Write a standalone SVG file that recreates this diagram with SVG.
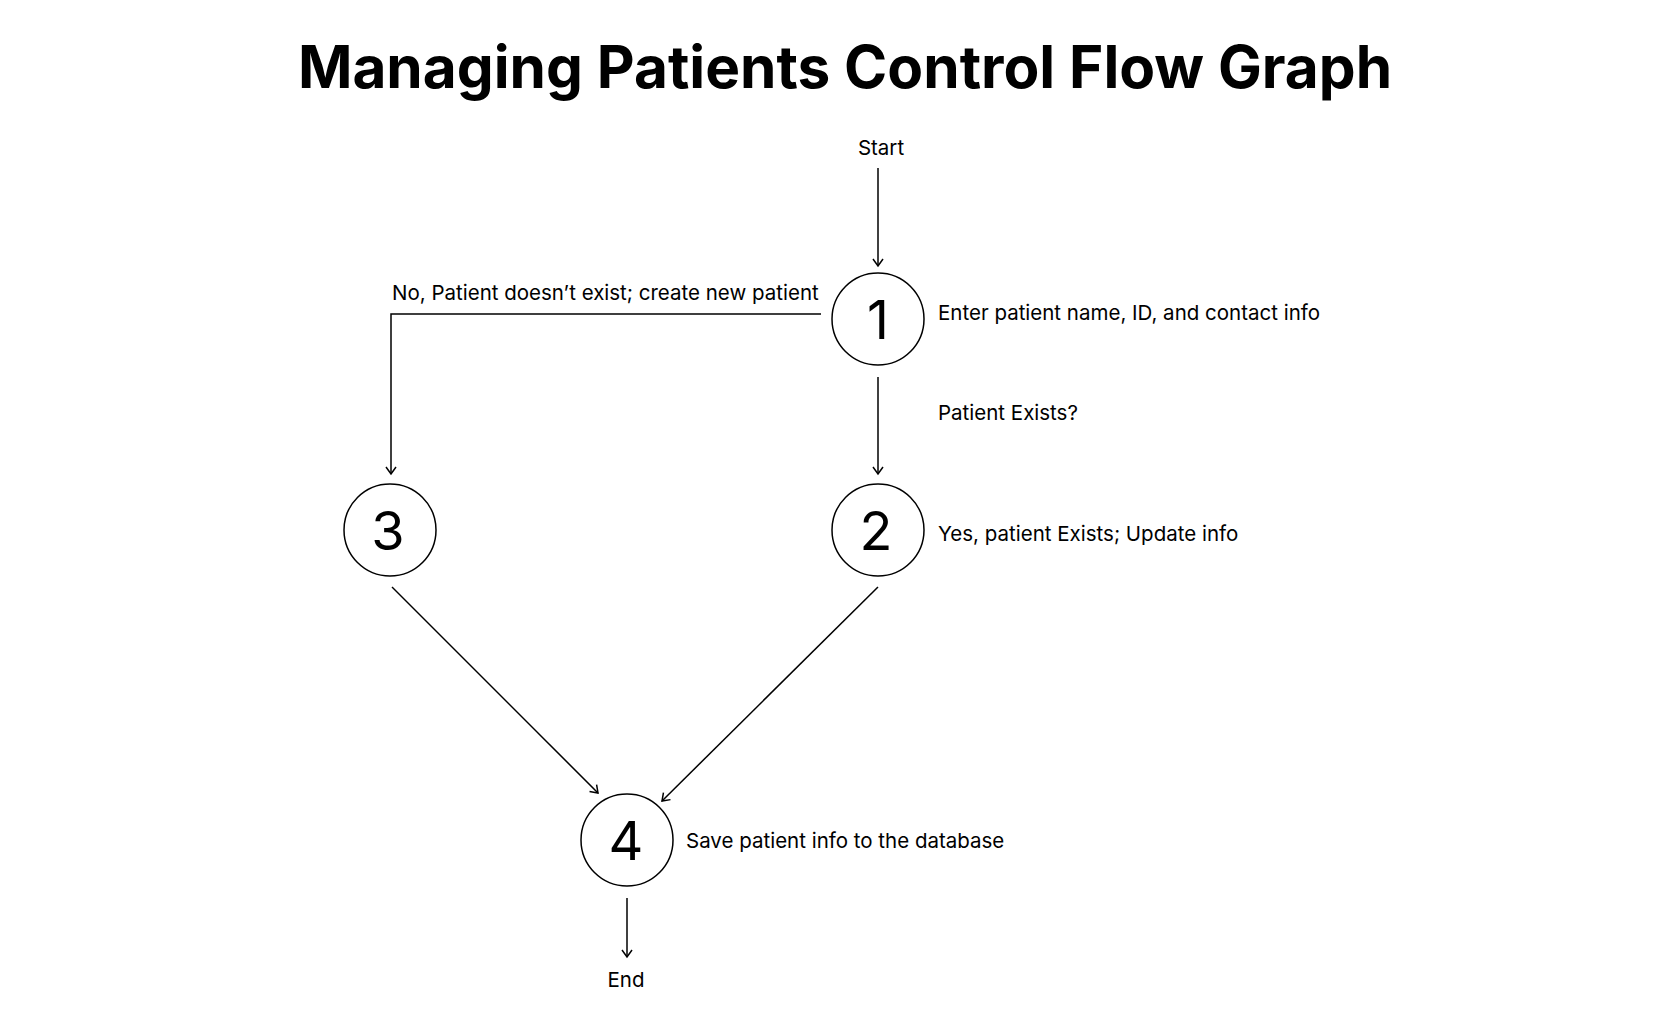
<svg xmlns="http://www.w3.org/2000/svg" width="1658" height="1010" viewBox="0 0 1658 1010">
<style>
.t{font-family:Inter,"Noto Sans","Liberation Sans",sans-serif;fill:#000}
.title{font-size:58.5px;font-weight:700;text-anchor:middle}
.lbl{font-size:20.5px}
.num{font-size:54px;text-anchor:middle}
.node{fill:#fff;stroke:#000;stroke-width:1.5}
.edge{fill:none;stroke:#000;stroke-width:1.5}
</style>
<defs>
<marker id="arr" viewBox="-10 -6 12 12" markerWidth="12" markerHeight="12" refX="0" refY="0" orient="auto" markerUnits="userSpaceOnUse">
<path d="M-7,-5 L0,0 L-7,5" fill="none" stroke="#000" stroke-width="1.5"/>
</marker>
</defs>
<rect width="1658" height="1010" fill="#fff"/>
<text class="t title" x="845" y="88">Managing Patients Control Flow Graph</text>
<g id="connectors">
<line class="edge" x1="878" y1="168" x2="878" y2="266" marker-end="url(#arr)"/>
<line class="edge" x1="878" y1="377" x2="878" y2="474" marker-end="url(#arr)"/>
<path class="edge" d="M821,314 L391,314 L391,474" marker-end="url(#arr)"/>
<line class="edge" x1="392" y1="587" x2="598" y2="793" marker-end="url(#arr)"/>
<line class="edge" x1="878" y1="587" x2="662" y2="801" marker-end="url(#arr)"/>
<line class="edge" x1="627" y1="898" x2="627" y2="957" marker-end="url(#arr)"/>
<text class="t lbl" x="881" y="155" text-anchor="middle">Start</text>
<text class="t lbl" x="392" y="300">No, Patient doesn’t exist; create new patient</text>
<text class="t lbl" x="938" y="420">Patient Exists?</text>
<text class="t lbl" x="626" y="987" text-anchor="middle">End</text>
</g>
<g id="node1">
<circle class="node" cx="878" cy="319" r="46"/>
<text class="t num" x="878" y="339">1</text>
<text class="t lbl" x="938" y="320">Enter patient name, ID, and contact info</text>
</g>
<g id="node2">
<circle class="node" cx="878" cy="530" r="46"/>
<text class="t num" x="876" y="550">2</text>
<text class="t lbl" x="938" y="541">Yes, patient Exists; Update info</text>
</g>
<g id="node3">
<circle class="node" cx="390" cy="530" r="46"/>
<text class="t num" x="388" y="550">3</text>
</g>
<g id="node4">
<circle class="node" cx="627" cy="840" r="46"/>
<text class="t num" x="626" y="860">4</text>
<text class="t lbl" x="686" y="848">Save patient info to the database</text>
</g>
</svg>
